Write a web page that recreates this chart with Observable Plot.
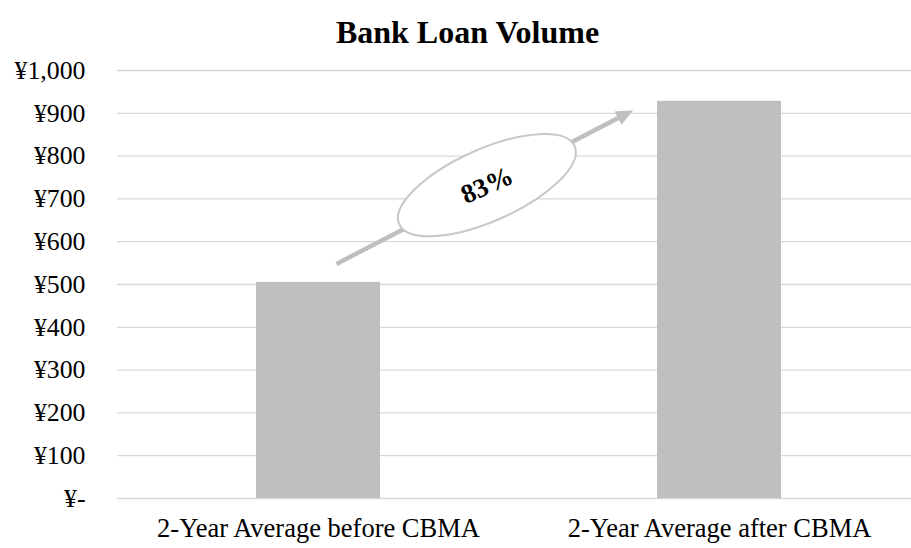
<!DOCTYPE html>
<html>
<head>
<meta charset="utf-8">
<script src="https://cdn.jsdelivr.net/npm/d3@7"></script>
<script src="https://cdn.jsdelivr.net/npm/@observablehq/plot@0.6"></script>
<style>
  html, body { margin: 0; padding: 0; background: #fff; }
  #chart svg { display: block; }
</style>
</head>
<body>
<div id="chart"></div>
<script>
const categories = ["2-Year Average before CBMA", "2-Year Average after CBMA"];
const values = [505, 928];
const yTicks = [0, 100, 200, 300, 400, 500, 600, 700, 800, 900, 1000];
const yTickLabels = ["¥-", "¥100", "¥200", "¥300", "¥400", "¥500", "¥600", "¥700", "¥800", "¥900", "¥1,000"];
const titleText = "Bank Loan Volume";
const growthLabel = "83%";

const data = categories.map((c, i) => ({category: c, value: values[i]}));
const FONT = "'Liberation Serif', 'Times New Roman', serif";

// Annotation: arrow from above the first bar towards the second bar, with an ellipse label
function growthAnnotation(index, scales, channels, dimensions) {
  const x = scales.x, y = scales.y;
  const bw = x.bandwidth ? x.bandwidth() : 0;
  const c0 = x(categories[0]) + bw / 2;
  const c1 = x(categories[1]) + bw / 2;
  const step = c1 - c0;
  const x0 = c0 + step * 0.046;
  const y0 = y(values[0] * 1.083);
  const x1 = c1 - step * 0.214;
  const y1 = y(values[1] * 0.976);
  const ns = "http://www.w3.org/2000/svg";
  const g = document.createElementNS(ns, "g");
  const ang = Math.atan2(y1 - y0, x1 - x0);
  const deg = ang * 180 / Math.PI;
  const head = 17;
  const line = document.createElementNS(ns, "line");
  line.setAttribute("x1", x0); line.setAttribute("y1", y0);
  line.setAttribute("x2", x1 - Math.cos(ang) * head * 0.8); line.setAttribute("y2", y1 - Math.sin(ang) * head * 0.8);
  line.setAttribute("stroke", "#bfbfbf"); line.setAttribute("stroke-width", 4.5);
  g.appendChild(line);
  const hw = 7.5;
  const bx = x1 - Math.cos(ang) * head, by = y1 - Math.sin(ang) * head;
  const px = -Math.sin(ang) * hw, py = Math.cos(ang) * hw;
  const poly = document.createElementNS(ns, "polygon");
  poly.setAttribute("points", `${x1},${y1} ${bx + px},${by + py} ${bx - px},${by - py}`);
  poly.setAttribute("fill", "#bfbfbf");
  g.appendChild(poly);
  const cx = x0 + (x1 - x0) * 0.507, cy = y0 + (y1 - y0) * 0.513;
  const rot = deg + 3.3;
  const ell = document.createElementNS(ns, "ellipse");
  ell.setAttribute("cx", cx); ell.setAttribute("cy", cy);
  ell.setAttribute("rx", 96); ell.setAttribute("ry", 36);
  ell.setAttribute("transform", `rotate(${rot} ${cx} ${cy})`);
  ell.setAttribute("fill", "#fff"); ell.setAttribute("stroke", "#c8c8c8"); ell.setAttribute("stroke-width", 2);
  g.appendChild(ell);
  const t = document.createElementNS(ns, "text");
  t.setAttribute("x", cx); t.setAttribute("y", cy);
  t.setAttribute("text-anchor", "middle"); t.setAttribute("dominant-baseline", "central");
  t.setAttribute("transform", `rotate(${rot} ${cx} ${cy})`);
  t.setAttribute("font-family", FONT); t.setAttribute("font-weight", "bold"); t.setAttribute("font-size", 27);
  t.setAttribute("fill", "#000");
  t.textContent = growthLabel;
  g.appendChild(t);
  return g;
}

const chart = Plot.plot({
  width: 911,
  height: 548,
  marginLeft: 117,
  marginRight: 0,
  marginTop: 70,
  marginBottom: 50,
  style: {fontFamily: FONT, background: "#fff", color: "#000"},
  x: {domain: categories, range: [117, 920], paddingInner: 0.69, paddingOuter: 0.345, label: null},
  y: {domain: [0, 1000], label: null},
  marks: [
    Plot.ruleY(yTicks, {stroke: "#d9d9d9", strokeWidth: 1.3}),
    Plot.barY(data, {x: "category", y: "value", fill: "#bfbfbf"}),
    Plot.axisY({ticks: yTicks, tickFormat: (d) => yTickLabels[yTicks.indexOf(d)], tickSize: 0, tickPadding: 32, fontSize: 25.8, label: null}),
    Plot.axisX({tickSize: 0, tickPadding: 20, fontSize: 26.5, label: null}),
    growthAnnotation,
    Plot.text([titleText], {frameAnchor: "top", dy: -50, dx: -47, text: (d) => d, fontSize: 32, fontWeight: "bold"})
  ]
});
document.getElementById("chart").appendChild(chart);
</script>
</body>
</html>
